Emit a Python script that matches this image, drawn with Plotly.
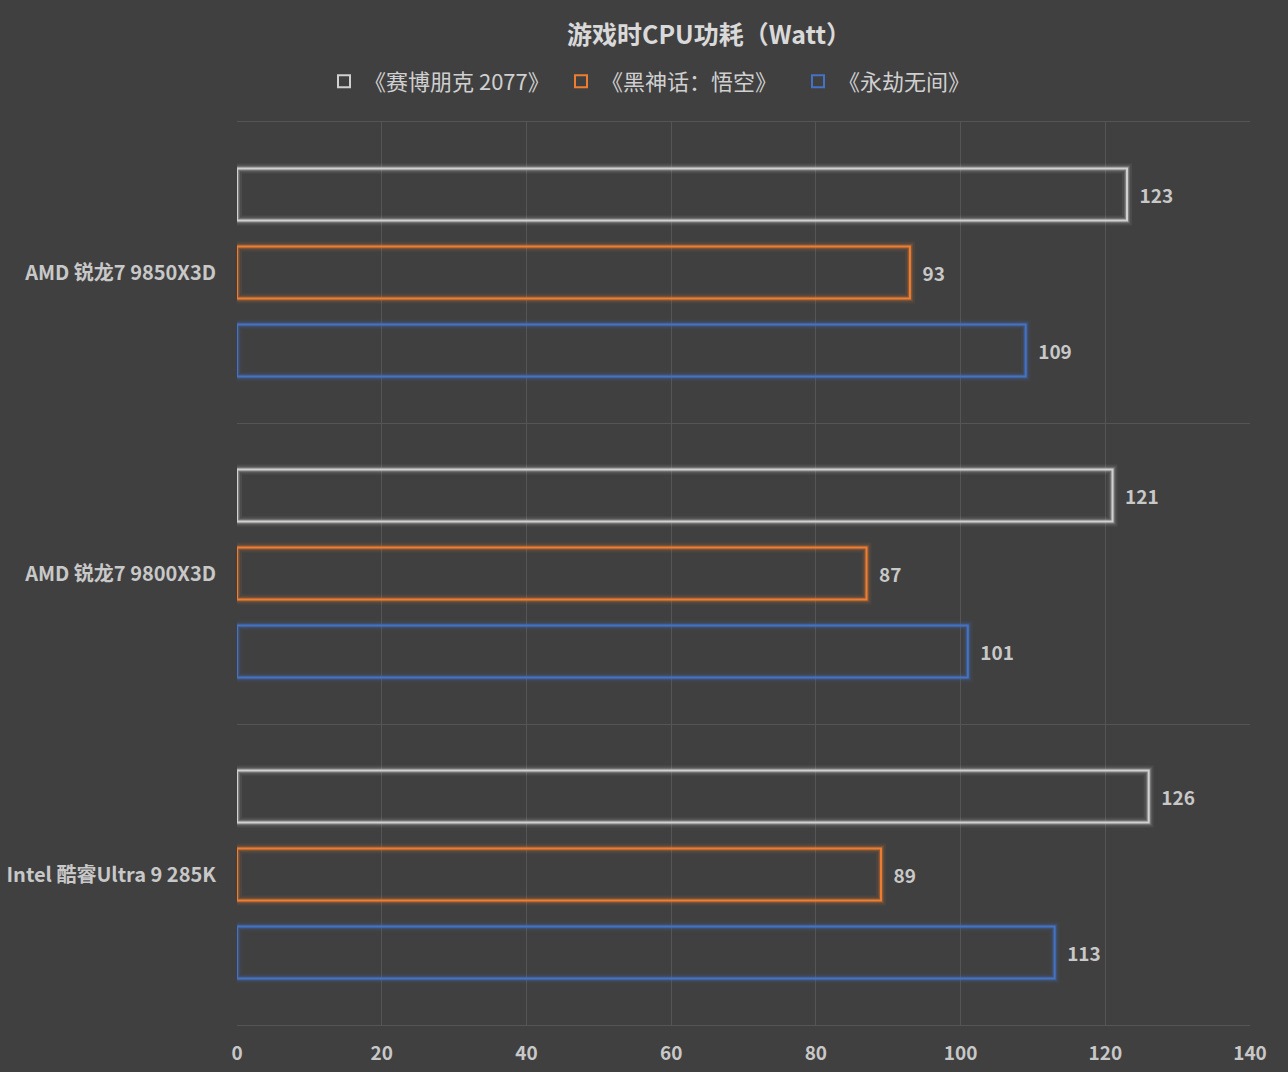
import plotly.graph_objects as go

categories = ["AMD 锐龙7 9850X3D", "AMD 锐龙7 9800X3D", "Intel 酷睿Ultra 9 285K"]
series_names = ["《赛博朋克 2077》", "《黑神话：悟空》", "《永劫无间》"]
cyberpunk = [123, 121, 126]
wukong = [93, 87, 89]
naraka = [109, 101, 113]
x_ticks = [0, 20, 40, 60, 80, 100, 120, 140]

colors = ["#d0d0d0", "#ed7d31", "#4472c4"]
glow = ["rgba(220,220,220,{a})", "rgba(237,125,49,{a})", "rgba(68,114,196,{a})"]
series = [cyberpunk, wukong, naraka]

FONT = "Noto Sans CJK SC"
TXT = "#c8c8c8"
BG = "#404040"

fig = go.Figure()
for i, (name, vals) in enumerate(zip(series_names, series)):
    for w, a in [(10, 0.08), (6, 0.15), (4, 0.25)]:
        fig.add_trace(go.Bar(
            x=vals, y=categories, orientation="h", offsetgroup=str(i),
            marker=dict(color="rgba(0,0,0,0)", line=dict(color=glow[i].format(a=a), width=w)),
            showlegend=False, hoverinfo="skip",
        ))
    fig.add_trace(go.Bar(
        x=vals, y=categories, orientation="h", name=name, offsetgroup=str(i),
        marker=dict(color="rgba(0,0,0,0)", line=dict(color=colors[i], width=2)),
        text=["\u2002" + str(v) for v in vals], textposition="outside",
        textfont=dict(family=FONT, size=19, color=TXT, weight="bold"),
        cliponaxis=False,
    ))

fig.update_layout(
    width=1288, height=1072,
    paper_bgcolor=BG, plot_bgcolor=BG,
    margin=dict(l=237, r=38, t=122, b=47, autoexpand=False),
    barmode="group", bargap=0.223, bargroupgap=0.333,
    font=dict(family=FONT, color=TXT),
    title=dict(text="游戏时CPU功耗（Watt）", x=0.5505, xref="container", xanchor="center",
               y=1 - 35/1072, yref="container", yanchor="middle",
               font=dict(family=FONT, size=25, color="#d9d9d9", weight="bold")),
    legend=dict(orientation="h", x=(324 - 237) / 1013, xanchor="left", y=1.045, yanchor="middle",
                font=dict(family=FONT, size=22, color="#d0d0d0"),
                bgcolor="rgba(0,0,0,0)", itemwidth=30, entrywidth=192, entrywidthmode="pixels"),
    xaxis=dict(range=[0, 140], tickvals=x_ticks, showgrid=True, gridcolor="#555555", gridwidth=1,
               zeroline=False, showline=True, linecolor="#555555", mirror=True,
               ticks="", ticklabelstandoff=11, automargin=False,
               tickfont=dict(family=FONT, size=19, color=TXT, weight="bold")),
    yaxis=dict(autorange="reversed", tickson="boundaries", showgrid=True, gridcolor="#555555",
               gridwidth=1, showline=False, ticks="", ticklabelstandoff=20, automargin=False,
               tickfont=dict(family=FONT, size=20, color=TXT, weight="bold")),
)

fig.write_html("out.html")
